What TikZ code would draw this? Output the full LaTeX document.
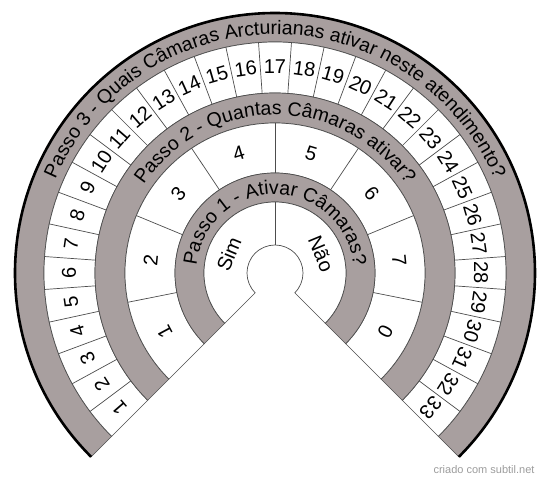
\documentclass[tikz,border=0pt]{standalone}
\usepackage{fontspec}
\setmainfont{Liberation Sans}
\usetikzlibrary{decorations.text}
\definecolor{bandc}{HTML}{A89F9F}
\definecolor{linec}{HTML}{4D4D4D}
\definecolor{footc}{HTML}{9C9C9C}
\newcommand{\ttlfont}{\fontsize{19.5}{23}\selectfont}

\begin{document}
\begin{tikzpicture}[x=1pt, y=1pt, font=\fontsize{20}{24}\selectfont,
          band/.style={fill=bandc, draw=linec, line width=0.7pt},
          cellring/.style={fill=white, draw=linec, line width=0.7pt},
          sep/.style={draw=linec, line width=0.7pt},
          lbl/.style={inner sep=0pt},
          ttl/.style={decoration={text along path, text align=center, text={|\ttlfont|#1}}, decorate}]
        \useasboundingbox (-275,-209) rectangle (275,273);
        \foreach \ro/\ri/\st in {260/231/band, 231/180/cellring, 180/150/band, 150/100/cellring, 100/71/band, 71/28/cellring}
          \draw[\st] (225:\ro) arc[start angle=225, end angle=-45, radius=\ro] -- (-45:\ri) arc[start angle=-45, end angle=225, radius=\ri] -- cycle;
        \draw[line width=2.6pt] (225:260) arc[start angle=225, end angle=-45, radius=260];
        \foreach \k in {1,...,32}{ \draw[sep] ({225-\k*270/33}:180) -- ({225-\k*270/33}:231); }
        \foreach \k in {1,...,7}{ \draw[sep] ({225-\k*33.75}:100) -- ({225-\k*33.75}:150); }
        \draw[sep] (90:28) -- (90:71);
        \foreach \i in {1,...,33}{ \node[lbl, rotate={135-(\i-0.5)*270/33}] (n\i) at ({225-(\i-0.5)*270/33}:206) {\i}; }
        \foreach \v [count=\k] in {1,2,3,4,5,6,7,0}{ \node[lbl, rotate={135-(\k-0.5)*33.75}] (m\k) at ({225-(\k-0.5)*33.75}:125) {\v}; }
        \node[lbl, rotate=67.5] (sim) at (157.5:50) {Sim}; \node[lbl, rotate=-67.5] (nao) at (22.5:50) {Não};
        \path[ttl={Passo 3 - Quais Câmaras Arcturianas ativar neste atendimento?}] (225:238.7) arc[start angle=225, end angle=-45, radius=238.7];
        \path[ttl={Passo 2 - Quantas Câmaras ativar?}] (225:158.2) arc[start angle=225, end angle=-45, radius=158.2];
        \path[ttl={Passo 1 - Ativar Câmaras?}] (225:78.7) arc[start angle=225, end angle=-45, radius=78.7];
        \node[font=\fontsize{11}{13}\selectfont, text=footc, anchor=east] (credit) at (263,-197) {criado com subtil.net};
      \end{tikzpicture}
\end{document}
